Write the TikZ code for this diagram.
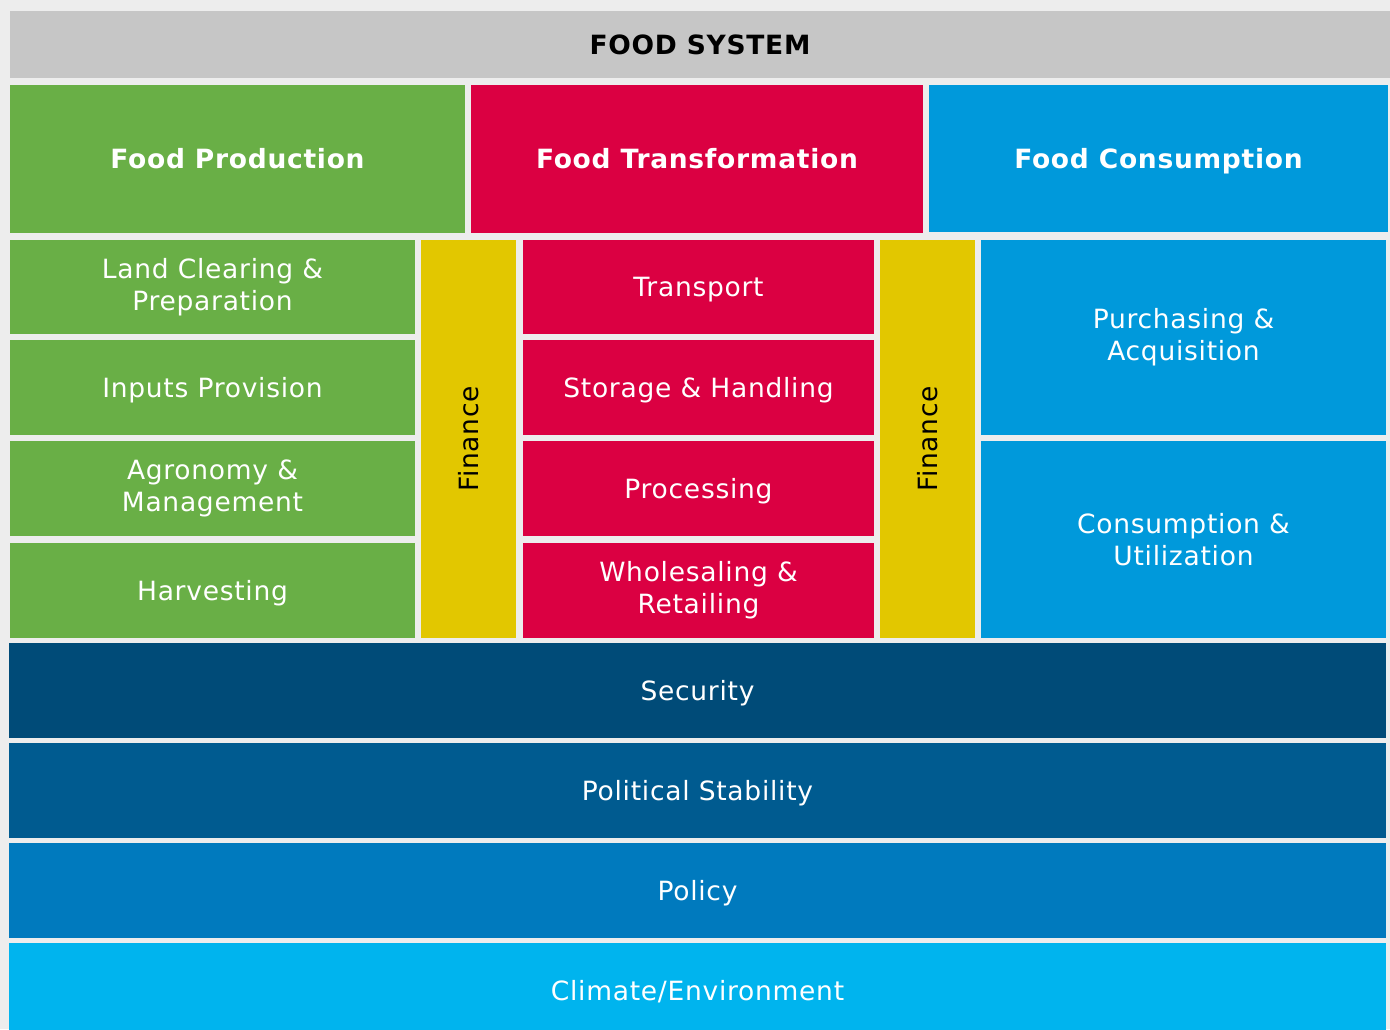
\documentclass[tikz,border=0pt]{standalone}
\usepackage{fontspec}
\setmainfont{DejaVu Sans}[LetterSpace=2.75]

\definecolor{bggray}{HTML}{EDEDED}
\definecolor{topgray}{HTML}{C6C6C6}
\definecolor{prodgreen}{HTML}{69AF46}
\definecolor{transred}{HTML}{DB0042}
\definecolor{consblue}{HTML}{0099DB}
\definecolor{finyellow}{HTML}{E2C700}
\definecolor{secblue}{HTML}{004B78}
\definecolor{polblue}{HTML}{005B90}
\definecolor{policyblue}{HTML}{007ABE}
\definecolor{climblue}{HTML}{00B4EE}

\tikzset{
  block/.style={inner sep=0pt, outer sep=0pt, align=center, text=white,
    font=\fontsize{26.5}{32}\selectfont},
  single/.style={block, text height=19.3pt, text depth=0pt},
  head/.style={single, font=\fontsize{26.5}{32}\selectfont\bfseries}
}

\begin{document}
\begin{tikzpicture}[x=1pt, y=-1pt]
        \useasboundingbox (0, 0) rectangle (1390, 1029);
        \clip (0, 0) rectangle (1390, 1029);
        \fill [bggray] (0, 0) rectangle (1390, 1029);

        % Title bar
        \node [head, fill=topgray, text=black, minimum width=1380, minimum height=67] (system) at (700, 44.5) {FOOD SYSTEM};

        % Three stages
        \node [head, fill=prodgreen, minimum width=455, minimum height=148] (production) at (237.5, 159) {Food Production};
        \node [head, fill=transred, minimum width=452, minimum height=148] (transformation) at (697, 159) {Food Transformation};
        \node [head, fill=consblue, minimum width=459, minimum height=147] (consumption) at (1158.5, 158.5) {Food Consumption};

        % Production steps
        \node [block, fill=prodgreen, minimum width=405, minimum height=94] (clearing) at (212.5, 287) {Land Clearing \&\\Preparation};
        \node [single, fill=prodgreen, minimum width=405, minimum height=95] (inputs) at (212.5, 387.5) {Inputs Provision};
        \node [block, fill=prodgreen, minimum width=405, minimum height=95] (agronomy) at (212.5, 488.5) {Agronomy \&\\Management};
        \node [single, fill=prodgreen, minimum width=405, minimum height=95] (harvesting) at (212.5, 590.5) {Harvesting};

        % Finance columns
        \node [single, fill=finyellow, text=black, rotate=90, minimum width=398, minimum height=95] (finance1) at (468.5, 439) {Finance};
        \node [single, fill=finyellow, text=black, rotate=90, minimum width=398, minimum height=95] (finance2) at (927.5, 439) {Finance};

        % Transformation steps
        \node [single, fill=transred, minimum width=351, minimum height=94] (transport) at (698.5, 287) {Transport};
        \node [single, fill=transred, minimum width=351, minimum height=95] (storage) at (698.5, 387.5) {Storage \& Handling};
        \node [single, fill=transred, minimum width=351, minimum height=95] (processing) at (698.5, 488.5) {Processing};
        \node [block, fill=transred, minimum width=351, minimum height=95] (wholesaling) at (698.5, 590.5) {Wholesaling \&\\Retailing};

        % Consumption steps
        \node [block, fill=consblue, minimum width=405, minimum height=195] (purchasing) at (1183.5, 337.5) {Purchasing \&\\Acquisition};
        \node [block, fill=consblue, minimum width=405, minimum height=197] (utilization) at (1183.5, 539.5) {Consumption \&\\Utilization};

        % Underlying conditions
        \node [single, fill=secblue, minimum width=1377, minimum height=95] (security) at (697.5, 690.5) {Security};
        \node [single, fill=polblue, minimum width=1377, minimum height=95] (stability) at (697.5, 790.5) {Political Stability};
        \node [single, fill=policyblue, minimum width=1377, minimum height=95] (policy) at (697.5, 890.5) {Policy};
        \node [single, fill=climblue, minimum width=1377, minimum height=95] (climate) at (697.5, 990.5) {Climate/Environment};
      \end{tikzpicture}
\end{document}
